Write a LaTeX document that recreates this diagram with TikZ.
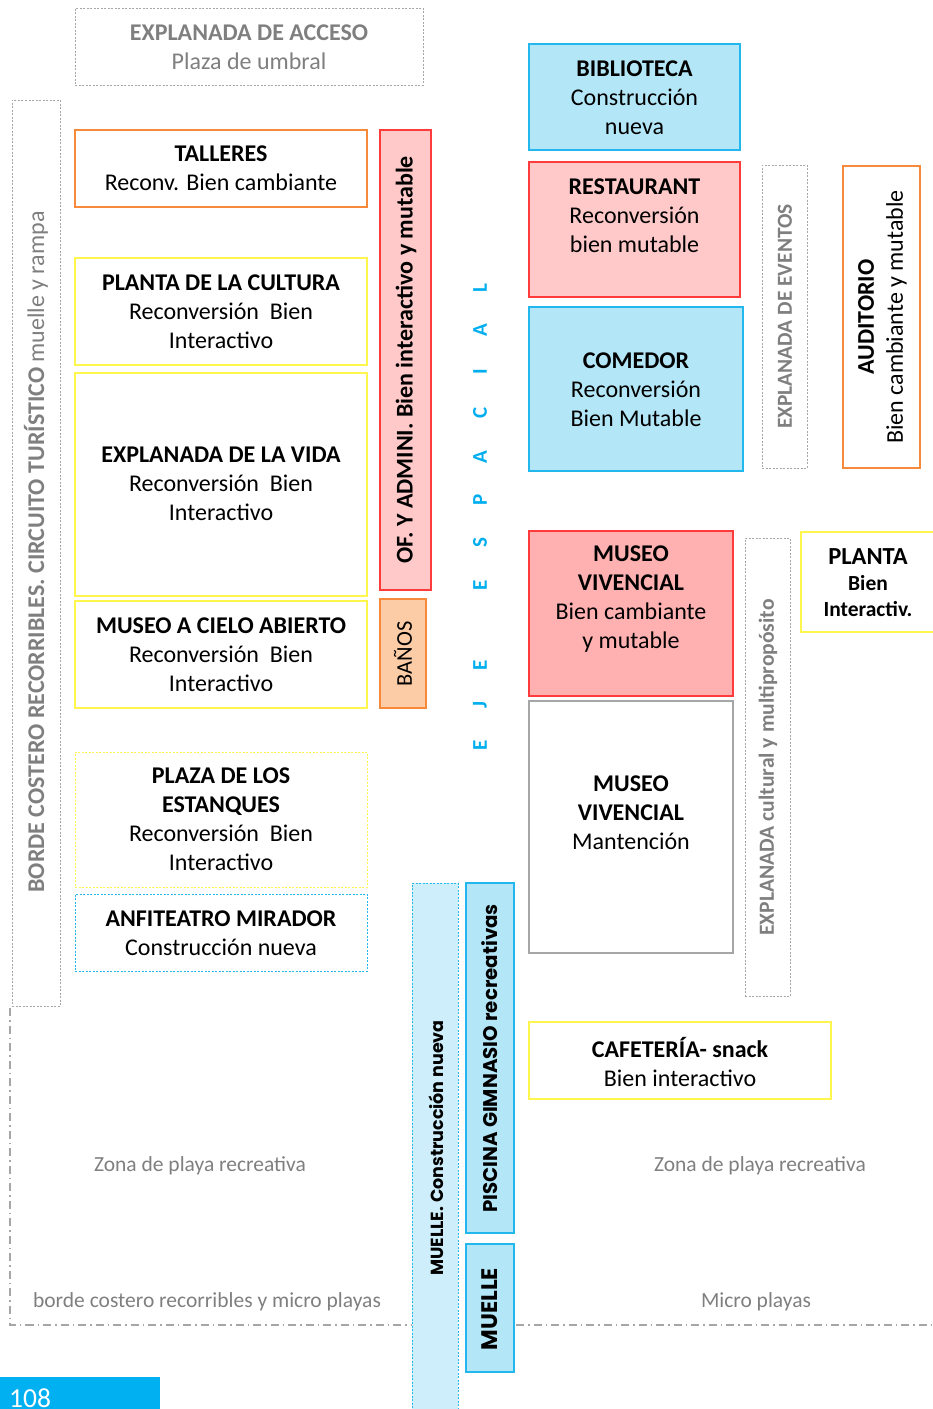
\documentclass[tikz,border=0pt]{standalone}
\usepackage{fontspec}
\setmainfont{Carlito}
\newfontfamily\geo{Poppins}
\definecolor{cyanB}{HTML}{22B8EE}
\definecolor{lblue}{HTML}{B3E7F8}
\definecolor{llblue}{HTML}{CDEEFA}
\definecolor{redB}{HTML}{FF3B3B}
\definecolor{pinkF}{HTML}{FFC9C9}
\definecolor{salmonF}{HTML}{FFB1B1}
\definecolor{yellowB}{HTML}{FFF64D}
\definecolor{orangeB}{HTML}{F7893B}
\definecolor{peachF}{HTML}{FCCCA6}
\definecolor{grayT}{HTML}{7F7F7F}
\definecolor{grayB}{HTML}{A6A6A6}
\definecolor{ejeC}{HTML}{00AEEF}
\definecolor{pageC}{HTML}{00B0F0}
\begin{document}
\begin{tikzpicture}[x=1pt,y=-1pt,
  box/.style={draw=#1, line width=1.3pt, inner sep=0pt, outer sep=0pt},
  dbox/.style={draw=#1, line width=1pt, dash pattern=on 2pt off 1.5pt, inner sep=0pt, outer sep=0pt},
  txt/.style={inner sep=0pt, align=center, font=\fontsize{24}{29}\selectfont, text=black},
  gtxt/.style={inner sep=0pt, align=center, font=\fontsize{24}{29}\selectfont, text=grayT},
  small/.style={font=\fontsize{21.5}{24}\selectfont},
  vtxt/.style={inner sep=0pt, rotate=90, align=center},
  eje/.style={inner sep=0pt, rotate=90, text=ejeC, font=\bfseries\fontsize{21}{21}\selectfont},
  dashdot/.style={draw=grayB, line width=1.3pt, dash pattern=on 8pt off 4pt on 1.5pt off 4pt}
]
\useasboundingbox (0,0) rectangle (933,1409);

% ---------- left column ----------
\node[dbox=grayB, minimum width=348pt, minimum height=77pt] (acceso) at (249,46.5) {};
\node[gtxt] (accesoT) at (249,47.5) {\textbf{EXPLANADA DE ACCESO}\\Plaza de umbral};

\node[dbox=grayB, minimum width=48pt, minimum height=906pt] (borde) at (36,553) {};
\node[vtxt, text=grayT, font=\fontsize{24}{27}\selectfont] (bordeT) at (36,552)
  {\textbf{BORDE COSTERO RECORRIBLES. CIRCUITO TURÍSTICO} muelle y rampa};

\node[box=orangeB, minimum width=292pt, minimum height=77pt] (talleres) at (221,168.5) {};
\node[txt] (talleresT) at (221,168.5) {\textbf{TALLERES}\\Reconv. Bien cambiante};

\node[box=yellowB, minimum width=292pt, minimum height=107pt] (cultura) at (221,311.5) {};
\node[txt] (culturaT) at (221,312) {\textbf{PLANTA DE LA CULTURA}\\Reconversión\ \ Bien\\Interactivo};

\node[box=yellowB, minimum width=292pt, minimum height=223pt] (vida) at (221,484.5) {};
\node[txt] (vidaT) at (221,484) {\textbf{EXPLANADA DE LA VIDA}\\Reconversión\ \ Bien\\Interactivo};

\node[box=yellowB, minimum width=292pt, minimum height=107pt] (cielo) at (221,654.5) {};
\node[txt] (cieloT) at (221,655) {\textbf{MUSEO A CIELO ABIERTO}\\Reconversión\ \ Bien\\Interactivo};

\node[dbox=yellowB, minimum width=292pt, minimum height=135pt] (estanques) at (221,819.5) {};
\node[txt] (estanquesT) at (221,819.5) {\textbf{PLAZA DE LOS}\\\textbf{ESTANQUES}\\Reconversión\ \ Bien\\Interactivo};

\node[dbox=cyanB, minimum width=292pt, minimum height=77pt] (anfi) at (221,932.5) {};
\node[txt] (anfiT) at (221,933.5) {\textbf{ANFITEATRO MIRADOR}\\Construcción nueva};

\node[box=redB, fill=pinkF, minimum width=51pt, minimum height=460pt] (ofi) at (405.5,360) {};
\node[vtxt, font=\bfseries\fontsize{24}{29}\selectfont] (ofiT) at (406,360) {OF. Y ADMINI. Bien interactivo y mutable};

\node[box=orangeB, fill=peachF, minimum width=46pt, minimum height=109pt] (banos) at (403,653.5) {};
\node[vtxt, font=\fontsize{22.5}{24}\selectfont] (banosT) at (403,654) {BAÑOS};

% ---------- EJE ESPACIAL ----------
\node[eje] (e1) at (480,745) {E};
\node[eje] (e2) at (480,705) {J};
\node[eje] (e3) at (480,665) {E};
\node[eje] (e4) at (480,585) {E};
\node[eje] (e5) at (480,543) {S};
\node[eje] (e6) at (480,500) {P};
\node[eje] (e7) at (480,457) {A};
\node[eje] (e8) at (480,413) {C};
\node[eje] (e9) at (480,372) {I};
\node[eje] (e10) at (480,330) {A};
\node[eje] (e11) at (480,288) {L};

% ---------- right column ----------
\node[box=cyanB, fill=lblue, minimum width=211pt, minimum height=106pt] (biblio) at (634.5,97) {};
\node[txt] (biblioT) at (634.5,97.5) {\textbf{BIBLIOTECA}\\Construcción\\nueva};

\node[box=redB, fill=pinkF, minimum width=211pt, minimum height=135pt] (rest) at (634.5,229.5) {};
\node[txt] (restT) at (634.5,215.5) {\textbf{RESTAURANT}\\Reconversión\\bien mutable};

\node[box=cyanB, fill=lblue, minimum width=214pt, minimum height=164pt] (comedor) at (636,389) {};
\node[txt] (comedorT) at (636,390) {\textbf{COMEDOR}\\Reconversión\\Bien Mutable};

\node[dbox=grayB, minimum width=45pt, minimum height=303pt] (eventos) at (784.5,316.5) {};
\node[vtxt, text=grayT, font=\bfseries\fontsize{21.4}{24}\selectfont] (eventosT) at (785,316.5) {EXPLANADA DE EVENTOS};

\node[box=orangeB, minimum width=77pt, minimum height=302pt] (audi) at (881.5,317) {};
\node[vtxt, font=\fontsize{24}{29}\selectfont] (audiT) at (882.5,317) {\textbf{AUDITORIO}\\Bien cambiante y mutable};

\node[box=redB, fill=salmonF, minimum width=204pt, minimum height=165pt] (viv) at (631,613.5) {};
\node[txt] (vivT) at (631,599.5) {\textbf{MUSEO}\\\textbf{VIVENCIAL}\\Bien cambiante\\y mutable};

\node[box=grayB, minimum width=204pt, minimum height=252pt] (mant) at (631,827) {};
\node[txt] (mantT) at (631,813) {\textbf{MUSEO}\\\textbf{VIVENCIAL}\\Mantención};

\node[dbox=grayB, minimum width=45pt, minimum height=458pt] (cultural) at (767.5,767) {};
\node[vtxt, text=grayT, font=\bfseries\fontsize{21.6}{24}\selectfont] (culturalT) at (768,767.5) {EXPLANADA cultural y multipropósito};

\node[box=yellowB, minimum width=140pt, minimum height=100pt] (planta) at (871,582) {};
\node[inner sep=0pt, align=center, font=\bfseries\fontsize{21.5}{26}\selectfont] (plantaT) at (868,583)
  {{\fontsize{24.5}{26}\selectfont PLANTA}\\Bien\\Interactiv.};

\node[box=yellowB, minimum width=302pt, minimum height=77pt] (cafe) at (680,1060.5) {};
\node[txt] (cafeT) at (680,1062) {\textbf{CAFETERÍA- snack}\\Bien interactivo};

% ---------- muelle ----------
\node[dbox=cyanB, fill=llblue, minimum width=46pt, minimum height=540pt] (muelleN) at (435,1153) {};
\node[vtxt, font=\geo\bfseries\fontsize{17.5}{20}\selectfont] (muelleNT) at (436,1148) {MUELLE. Construcción nueva};

\node[draw=cyanB, line width=2.4pt, fill=lblue, inner sep=0pt, minimum width=48pt, minimum height=350pt] (pisc) at (490,1058) {};
\node[vtxt, font=\geo\bfseries\fontsize{19.8}{22}\selectfont] (piscT) at (490,1058.5) {PISCINA GIMNASIO recreativas};

\node[draw=cyanB, line width=2.4pt, fill=lblue, inner sep=0pt, minimum width=48pt, minimum height=128pt] (muelle) at (490,1308) {};
\node[vtxt, font=\geo\bfseries\fontsize{22.5}{24}\selectfont] (muelleT) at (490,1309) {MUELLE};

% ---------- beach zone ----------
\coordinate (z1) at (10,1008);
\coordinate (z2) at (10,1325);
\coordinate (z3) at (412,1325);
\coordinate (z4) at (516,1325);
\coordinate (z5) at (940,1325);
\draw[dashdot] (z1) -- (z2) -- (z3);
\draw[dashdot] (z4) -- (z5);

\node[gtxt, small] (zona1) at (200,1166) {Zona de playa recreativa};
\node[gtxt, small] (zona2) at (760,1166) {Zona de playa recreativa};
\node[gtxt, small] (borde2) at (207,1302) {borde costero recorribles y micro playas};
\node[gtxt, small] (micro) at (756,1302) {Micro playas};

% ---------- page number ----------
\node[fill=pageC, inner sep=0pt, minimum width=160pt, minimum height=40pt] (pagebox) at (80,1397) {};
\node[inner sep=0pt, anchor=base west, text=white, font=\fontsize{27.5}{30}\selectfont] (pagenum) at (9,1407) {108};
\end{tikzpicture}
\end{document}
